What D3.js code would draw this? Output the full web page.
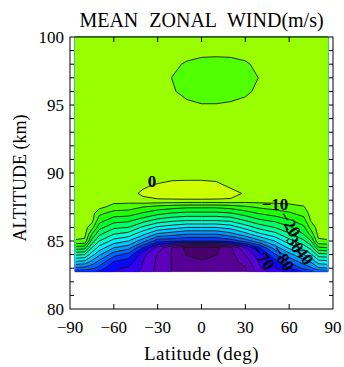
<!DOCTYPE html>
<html><head><meta charset="utf-8">
<script src="https://cdn.jsdelivr.net/npm/d3@7"></script>
<style>body{margin:0;background:#fff}svg{display:block}</style>
</head><body>
<svg id="c" width="344" height="367"></svg>
<script>
// ---------- data ----------
const latitudes = [-86.5,-80,-75,-70,-60,-50,-40,-30,-20,-10,0,10,20,30,40,50,60,70,75,80,86.5];
const altitudes = [82.75,83,83.5,84,84.5,85,85.5,86,86.5,87,87.5,88,88.5,89,89.5,90,91,92,93,94,95,96,97,98,99,100];
// zonal wind (m/s), one row per altitude (bottom to top), one column per latitude
const windRows = [
  [-58,-58,-59,-61,-65,-67,-71,-76.5,-80.2,-81,-81,-81.5,-81.5,-81,-72,-68,-63,-60,-57,-54,-52],
  [-51,-52,-54,-57,-64,-66,-70.5,-76.5,-80.3,-82,-82,-82,-81.5,-80.5,-70.5,-66,-60,-54,-51,-46,-45],
  [-40,-41,-46,-51,-60,-62,-70,-76,-80.3,-83,-84.5,-83,-82,-78,-69,-62,-54,-47,-44,-37,-36],
  [-29,-30,-38,-44,-53,-57,-68.5,-75.5,-80.5,-85.3,-87,-85.2,-82,-75,-66,-56,-47,-40,-36,-27,-26],
  [-17,-18,-30,-37,-45,-48,-60,-72,-80.5,-86.5,-88,-86.5,-81,-70.5,-60,-48,-39,-33,-28,-16,-15],
  [-5.5,-6,-22,-30,-37,-40,-48,-58,-59,-60,-60,-60,-58,-53,-46,-40,-32,-26,-20,-6,-5.5],
  [-3,-3.5,-15,-24,-30,-32,-39,-46,-48,-50,-50,-50,-47,-42,-36,-32,-26,-20,-13,-3.5,-3],
  [-3,-3,-8,-18,-24,-25,-31,-36,-38,-40,-40,-40,-38,-33,-28,-25,-21,-16,-8,-3,-3],
  [-3,-3,-3.5,-13,-18,-19,-23,-27,-29,-30,-30,-30,-29,-25,-21,-19,-16,-12,-4.5,-3,-3],
  [-3,-3,-3,-9,-12.5,-13,-16,-19,-21,-22,-22,-22,-21,-18,-15,-13,-11,-8.5,-3,-3,-3],
  [-3,-3,-3,-3.5,-7,-7.5,-10,-12,-13,-14,-14,-14,-13,-11,-9,-8,-7,-5.3,-3,-3,-3],
  [-3,-3,-3,-3,-3,-3,-1,-0.5,-0.5,-0.5,-0.5,-0.5,-0.5,-2,-2.5,-2.5,-2.5,-3,-3,-3,-3],
  [-3,-3,-3,-3,-3,-1.5,0.8,2,2.5,3,3,2.5,1.5,-0.5,-1.5,-2,-2.5,-3,-3,-3,-3],
  [-3,-3,-3,-3,-3,-1.8,-0.5,0.8,2,2.5,2.5,1.5,-0.5,-1.5,-2,-2.5,-3,-3,-3,-3,-3],
  [-3,-3,-3,-3,-3,-2,-1.5,-1,-0.3,-0.2,-0.2,-0.5,-1.5,-2,-2.5,-3,-3,-3,-3,-3,-3],
  [-3,-3,-3,-3,-3,-2.5,-2.5,-2,-1.5,-1.5,-1.5,-1.5,-2,-2.5,-2.5,-3,-3,-3,-3,-3,-3],
  [-3,-3,-3,-3,-3,-3,-3,-2.5,-2,-2,-2,-2,-2.5,-2.5,-2.5,-3,-3,-3,-3,-3,-3],
  [-3,-3,-3,-3,-3,-3,-3,-3,-2.5,-2.5,-2.5,-2.5,-2.5,-2.5,-2.5,-3,-3,-3,-3,-3,-3],
  [-3,-3,-3,-3,-3,-3,-3,-3,-2.8,-2.8,-2.8,-2.8,-2.8,-2.8,-2.8,-3,-3,-3,-3,-3,-3],
  [-3,-3,-3,-3,-3,-3,-3,-3,-3,-3,-3.2,-3.2,-3,-3,-3,-3,-3,-3,-3,-3,-3],
  [-3,-3,-3,-3,-3,-3,-3,-3,-3,-4,-4.8,-4.8,-4.5,-3.8,-3,-3,-3,-3,-3,-3,-3],
  [-3,-3,-3,-3,-3,-3,-3,-3,-4.5,-6.5,-7,-7,-6.5,-5.8,-4,-3,-3,-3,-3,-3,-3],
  [-3,-3,-3,-3,-3,-3,-3,-3,-5.1,-7,-7.5,-7.5,-7,-6.5,-4.8,-3,-3,-3,-3,-3,-3],
  [-3,-3,-3,-3,-3,-3,-3,-3,-4,-5.6,-6,-6.2,-6,-5.5,-4,-3,-3,-3,-3,-3,-3],
  [-3,-3,-3,-3,-3,-3,-3,-3,-3,-3,-4,-4,-4,-3.5,-3,-3,-3,-3,-3,-3,-3],
  [-3,-3,-3,-3,-3,-3,-3,-3,-3,-3,-3,-3,-3,-3,-3,-3,-3,-3,-3,-3,-3]
];
const levels = [-90,-85,-80,-75,-70,-65,-60,-55,-50,-45,-40,-35,-30,-25,-20,-15,-10,-5,0,5];
const levelColors = ['#48006c','#560096','#5c00bc','#5800d8','#3000f0','#0808ff','#0038ff','#0068ff','#0098ff','#00c8ff',
                     '#00f0ff','#00ffd0','#00ff98','#00ff60','#00ff28','#20ff00','#50ff00','#99ff00','#ccff00','#ffff00'];
const xTicks = [-90,-60,-30,0,30,60,90];
const yTicks = [80,85,90,95,100];
const yMinorTicks = [81,82,83,84,86,87,88,89,91,92,93,94,96,97,98,99];
const contourLabels = [
  {text:'0', lat:-33.9, alt:89.4, angle:0},
  {text:'\u221210', lat:50.3, alt:87.7, angle:0},
  {text:'\u221220', lat:60.6, alt:86.25, angle:58},
  {text:'\u221230', lat:62.5, alt:85.1, angle:58},
  {text:'\u221240', lat:69, alt:84.2, angle:55},
  {text:'\u221280', lat:56, alt:83.75, angle:58},
  {text:'\u221270', lat:42.3, alt:83.8, angle:52}
];
const titleText = 'MEAN ZONAL WIND(m/s)';
const xTitle = 'Latitude (deg)';
const yTitle = 'ALTITUDE (km)';

// ---------- drawing ----------
const svg = d3.select('#c');
const frame = {left:70, right:333, top:37, bottom:309};
const x = d3.scaleLinear().domain([-90,90]).range([frame.left, frame.right]);
const y = d3.scaleLinear().domain([80,100]).range([frame.bottom, frame.top]);
const nx = latitudes.length, ny = altitudes.length;
const gx = d3.scaleLinear().domain(d3.range(nx)).range(latitudes).clamp(true);
const gy = d3.scaleLinear().domain(d3.range(ny)).range(altitudes).clamp(true);
const values = windRows.flat();
const contours = d3.contours().size([nx, ny]).thresholds(levels)(values);
const proj = d3.geoTransform({point(px, py){ this.stream.point(x(gx(px - 0.5)), y(gy(py - 0.5))); }});
const path = d3.geoPath(proj);

const x0 = x(latitudes[0]), x1 = x(latitudes[nx-1]);
const yTop = y(altitudes[ny-1]), yBot = y(altitudes[0]);
const defs = svg.append('defs');
defs.append('clipPath').attr('id','inner').append('rect')
  .attr('x', x0 + 1).attr('y', yTop + 1).attr('width', x1 - x0 - 2).attr('height', yBot - yTop - 2);

const gFill = svg.append('g');
gFill.selectAll('path').data(contours).join('path')
  .attr('d', path)
  .attr('fill', (d,i) => levelColors[i])
  .attr('fill-rule','evenodd')
  .attr('stroke', (d,i) => levelColors[i]).attr('stroke-width', 0.3);

svg.append('g').attr('clip-path','url(#inner)')
  .selectAll('path').data(contours.slice(1)).join('path')
  .attr('d', path)
  .attr('fill','none').attr('stroke','#151515').attr('stroke-width',0.9);

svg.append('g').selectAll('text').data(contourLabels).join('text')
  .attr('transform', d => `translate(${x(d.lat)},${y(d.alt)}) rotate(${d.angle})`)
  .attr('text-anchor','middle').attr('dy','0.35em')
  .style('font-family','"Liberation Serif", serif').style('font-size','17px').style('font-weight','bold')
  .attr('fill','#000').text(d => d.text);

// frame
svg.append('rect').attr('x', frame.left).attr('y', frame.top)
  .attr('width', frame.right - frame.left).attr('height', frame.bottom - frame.top)
  .attr('fill','none').attr('stroke','#000').attr('stroke-width',1);

const ticks = svg.append('g').attr('stroke','#000').attr('stroke-width',1);
xTicks.slice(1,-1).forEach(v => {
  ticks.append('line').attr('x1',x(v)).attr('x2',x(v)).attr('y1',frame.bottom).attr('y2',frame.bottom-5);
  ticks.append('line').attr('x1',x(v)).attr('x2',x(v)).attr('y1',frame.top).attr('y2',frame.top+5);
});
yTicks.slice(1,-1).concat(yMinorTicks).forEach(v => {
  ticks.append('line').attr('x1',frame.left).attr('x2',frame.left+4).attr('y1',y(v)).attr('y2',y(v));
  ticks.append('line').attr('x1',frame.right).attr('x2',frame.right-4).attr('y1',y(v)).attr('y2',y(v));
});

const font = '"Liberation Serif", serif';
svg.append('g').selectAll('text').data(xTicks).join('text')
  .attr('x', d => x(d)).attr('y', frame.bottom + 24).attr('text-anchor','middle')
  .style('font-family',font).style('font-size','17px')
  .text(d => d < 0 ? '\u2212' + Math.abs(d) : d);
svg.append('g').selectAll('text').data(yTicks).join('text')
  .attr('x', frame.left - 6).attr('y', d => y(d) + 6).attr('text-anchor','end')
  .style('font-family',font).style('font-size','17px')
  .text(d => d);

svg.append('text').attr('x', (frame.left+frame.right)/2).attr('y', 27).attr('text-anchor','middle')
  .style('font-family',font).style('font-size','20px').style('word-spacing','6px').text(titleText);
svg.append('text').attr('x', (frame.left+frame.right)/2).attr('y', 360).attr('text-anchor','middle')
  .style('font-family',font).style('font-size','19px').style('letter-spacing','0.5px').text(xTitle);
svg.append('text').attr('transform', `translate(26,${(frame.top+frame.bottom)/2 + 5}) rotate(-90)`)
  .attr('text-anchor','middle')
  .style('font-family',font).style('font-size','18px').text(yTitle);
</script>
</body></html>
